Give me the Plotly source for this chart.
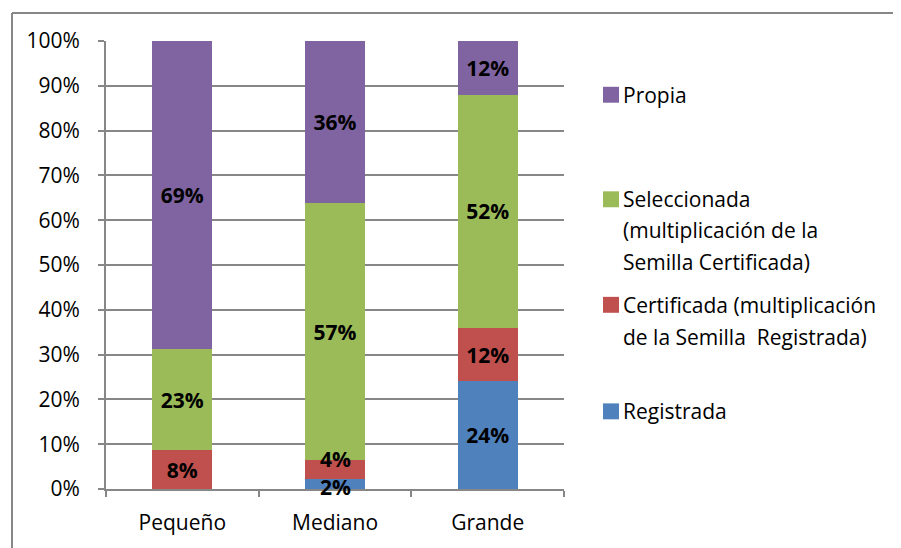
import plotly.graph_objects as go

categories = ["Pequeño", "Mediano", "Grande"]
series_names = ["Registrada", "Certificada", "Seleccionada", "Propia"]
registrada = [0.0, 2.3, 24.0]
certificada = [8.6, 4.1, 12.0]
seleccionada = [22.6, 57.4, 52.0]
propia = [68.8, 36.2, 12.0]
labels_registrada = ["", "2%", "24%"]
labels_certificada = ["8%", "4%", "12%"]
labels_seleccionada = ["23%", "57%", "52%"]
labels_propia = ["69%", "36%", "12%"]
legend_lines = [
    ["Propia"],
    ["Seleccionada", "(multiplicación de la", "Semilla Certificada)"],
    ["Certificada (multiplicación", "de la Semilla  Registrada)"],
    ["Registrada"],
]
y_ticks = [0, 10, 20, 30, 40, 50, 60, 70, 80, 90, 100]
y_tick_labels = [f"{v}%" for v in y_ticks]

colors = ["#4F81BD", "#C0504D", "#9BBB59", "#8064A2"]
FONT = "Open Sans"
FS = 21
GRID = "#878787"

# page offset (body margin) -> convert reference pixel coords to figure coords
OFF = 8
W, H = 901 - OFF, 548 - OFF
L = 106 - OFF
T = 41 - OFF
pw = 458
plot_bottom = 491 - OFF
B = H - plot_bottom
ph = plot_bottom - T


def px_x(x):
    return (x - OFF - L) / pw


def px_y(y):
    return (plot_bottom - (y - OFF)) / ph


small_idx = 1  # Mediano: small segments labelled with annotations
fig = go.Figure()
for name, vals, labs, col in zip(
    series_names,
    [registrada, certificada, seleccionada, propia],
    [labels_registrada, labels_certificada, labels_seleccionada, labels_propia],
    colors,
):
    txt = list(labs)
    if name in ("Registrada", "Certificada"):
        txt[small_idx] = ""
    fig.add_trace(go.Bar(
        name=name, x=categories, y=vals, text=txt,
        marker=dict(color=col, line=dict(width=0)),
        textposition="inside", insidetextanchor="middle",
        constraintext="none", cliponaxis=False,
        textfont=dict(family=FONT, size=FS, color="black", weight="bold"),
        textangle=0, showlegend=False,
    ))

# labels for the thin Mediano segments
fig.add_annotation(x=categories[small_idx], y=registrada[small_idx] + certificada[small_idx],
                   yshift=1, text=labels_certificada[small_idx], showarrow=False,
                   font=dict(family=FONT, size=FS, color="black", weight="bold"))
fig.add_annotation(x=categories[small_idx], y=0, yshift=2,
                   text=labels_registrada[small_idx], showarrow=False,
                   font=dict(family=FONT, size=FS, color="black", weight="bold"))

fig.update_layout(
    barmode="stack", bargap=0.607,
    width=W, height=H,
    margin=dict(l=L, r=W - L - pw, t=T, b=B),
    paper_bgcolor="white", plot_bgcolor="white",
    font=dict(family=FONT, size=FS, color="black"),
    xaxis=dict(
        showline=True, linecolor=GRID, linewidth=2,
        ticks="outside", tickson="boundaries", ticklen=6, tickcolor=GRID, tickwidth=2,
        showgrid=False, tickfont=dict(size=FS), ticklabelstandoff=14,
    ),
    yaxis=dict(
        range=[0, 100], tickvals=y_ticks, ticktext=y_tick_labels,
        showline=True, linecolor=GRID, linewidth=2,
        ticks="outside", ticklen=6, tickcolor=GRID, tickwidth=2,
        showgrid=True, gridcolor=GRID, gridwidth=2,
        tickfont=dict(size=FS), ticklabelstandoff=14, zeroline=False,
    ),
)

# outer frame
fig.add_shape(type="line", xref="paper", yref="paper",
              x0=px_x(12), x1=px_x(910), y0=px_y(13), y1=px_y(13),
              line=dict(color=GRID, width=2))
fig.add_shape(type="line", xref="paper", yref="paper",
              x0=px_x(12), x1=px_x(12), y0=px_y(13), y1=px_y(560),
              line=dict(color=GRID, width=2))

# legend drawn manually: (lines, colour, y of each line in reference px)
legend_items = [
    (legend_lines[0], colors[3], [95]),
    (legend_lines[1], colors[2], [200, 231, 263]),
    (legend_lines[2], colors[1], [306, 338]),
    (legend_lines[3], colors[0], [413]),
]
for lines, col, ys in legend_items:
    fig.add_shape(type="rect", xref="paper", yref="paper",
                  x0=px_x(603), x1=px_x(619), y0=px_y(ys[0] - 8), y1=px_y(ys[0] + 8),
                  fillcolor=col, line=dict(width=0))
    for line, yy in zip(lines, ys):
        fig.add_annotation(xref="paper", yref="paper", x=px_x(621), y=px_y(yy),
                           xanchor="left", yanchor="middle", align="left", showarrow=False,
                           text=line, font=dict(family=FONT, size=FS, color="black"))

fig.write_html("out.html")
